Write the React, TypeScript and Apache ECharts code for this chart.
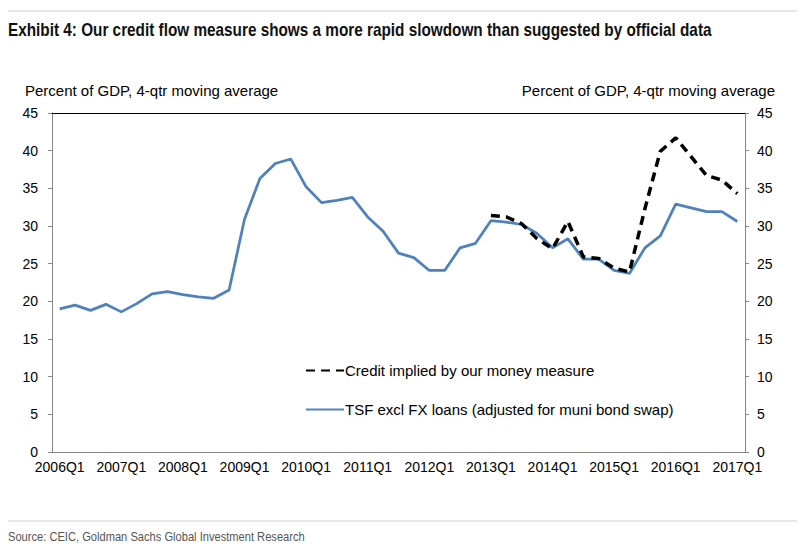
import React, { useEffect, useRef } from "react";
import * as echarts from "echarts";

const years = [2006, 2007, 2008, 2009, 2010, 2011, 2012, 2013, 2014, 2015, 2016, 2017];
const quarters: string[] = [];
years.forEach((y) => {
  for (let q = 1; q <= 4; q++) {
    if (y === 2017 && q > 1) break;
    quarters.push(`${y}Q${q}`);
  }
});

const tsfSeries = [
  19.0, 19.5, 18.8, 19.6, 18.6, 19.7, 21.0, 21.3, 20.9, 20.6, 20.4, 21.5,
  30.9, 36.3, 38.3, 38.9, 35.2, 33.1, 33.4, 33.8, 31.2, 29.3, 26.4, 25.8,
  24.1, 24.1, 27.1, 27.7, 30.7, 30.5, 30.2, 29.0, 27.1, 28.3, 25.6, 25.6,
  24.1, 23.7, 27.1, 28.7, 32.9, 32.4, 31.9, 31.9, 30.6,
];

const creditSeries: (number | null)[] = [
  null, null, null, null, null, null, null, null, null, null, null, null,
  null, null, null, null, null, null, null, null, null, null, null, null,
  null, null, null, null, 31.4, 31.2, 30.3, 28.3, 27.0, 30.6, 25.9, 25.7,
  24.4, 23.9, 32.3, 39.9, 41.7, 39.2, 36.7, 36.1, 34.3,
];

const creditName = "Credit implied by our money measure";
const tsfName = "TSF excl FX loans (adjusted for muni bond swap)";
const yAxisTitle = "Percent of GDP, 4-qtr moving average";
const chartTitle =
  "Exhibit 4: Our credit flow measure shows a more rapid slowdown than suggested by official data";
const sourceText = "Source: CEIC, Goldman Sachs Global Investment Research";

const axisFont = "'Liberation Sans', Arial, sans-serif";

function fitScale(text: string, font: string, target: number): number {
  const c = document.createElement("canvas").getContext("2d");
  if (!c) return 1;
  c.font = font;
  const w = c.measureText(text).width;
  return w > 0 ? target / w : 1;
}

export default function App() {
  const ref = useRef<HTMLDivElement>(null);
  useEffect(() => {
    document.body.style.margin = "0";
    if (!ref.current) return;
    const chart = echarts.init(ref.current, undefined, { renderer: "svg" });
    const axisLineColor = "#868686";
    const titleFont = `bold 19px ${axisFont}`;
    const srcFont = `13px ${axisFont}`;
    const titleScale = fitScale(chartTitle, titleFont, 704);
    const srcScale = fitScale(sourceText, srcFont, 297);
    const valueAxis = (pos: "left" | "right") => ({
      type: "value" as const,
      position: pos,
      min: 0,
      max: 45,
      interval: 5,
      axisLine: { show: true, lineStyle: { color: axisLineColor, width: 1 } },
      axisTick: { show: true, length: 4, lineStyle: { color: axisLineColor } },
      axisLabel: { color: "#000", fontSize: 14, fontFamily: axisFont, margin: pos === "left" ? 14 : 12 },
      splitLine: { show: false },
    });
    chart.setOption({
      animation: false,
      backgroundColor: "#fff",
      grid: { left: 52, right: 60, top: 113, bottom: 100, containLabel: false },
      xAxis: {
        type: "category",
        data: quarters,
        boundaryGap: true,
        axisLine: { lineStyle: { color: axisLineColor } },
        axisTick: { interval: 3, length: 4, lineStyle: { color: axisLineColor } },
        axisLabel: { interval: 3, color: "#000", fontSize: 14, fontFamily: axisFont, margin: 8 },
      },
      yAxis: [valueAxis("left"), valueAxis("right")],
      legend: {
        orient: "vertical",
        left: 300,
        top: 358,
        itemGap: 24,
        itemWidth: 38,
        itemHeight: 13,
        itemStyle: { opacity: 0 },
        textStyle: { color: "#000", fontSize: 15, fontFamily: axisFont, padding: [0, 0, 0, -4] },
        data: [creditName, tsfName],
      },
      series: [
        {
          name: tsfName,
          type: "line",
          data: tsfSeries,
          symbol: "none",
          lineStyle: { color: "#4F81BD", width: 2.75 },
          itemStyle: { color: "#4F81BD" },
          z: 2,
          markLine: {
            silent: true,
            symbol: "none",
            label: { show: false },
            lineStyle: { color: "#000", width: 1, type: "solid" },
            data: [{ yAxis: 45 }],
          },
        },
        {
          name: creditName,
          type: "line",
          data: creditSeries,
          symbol: "none",
          lineStyle: { color: "#000", width: 3.5, type: [9, 6] },
          itemStyle: { color: "#000" },
          z: 3,
        },
      ],
      graphic: [
        { type: "line", shape: { x1: 8, y1: 11, x2: 797, y2: 11 }, style: { stroke: "#d0d0d0", lineWidth: 1 } },
        {
          type: "text",
          x: 8,
          y: 20,
          scaleX: titleScale,
          style: { text: chartTitle, fill: "#111", font: titleFont, x: 0, y: 0, verticalAlign: "top" },
        },
        {
          type: "text",
          left: 25,
          top: 83,
          style: { text: yAxisTitle, fill: "#000", font: `15px ${axisFont}` },
        },
        {
          type: "text",
          right: 30,
          top: 83,
          style: { text: yAxisTitle, fill: "#000", font: `15px ${axisFont}` },
        },
        { type: "line", shape: { x1: 8, y1: 521, x2: 797, y2: 521 }, style: { stroke: "#d0d0d0", lineWidth: 1 } },
        {
          type: "text",
          x: 8,
          y: 530,
          scaleX: srcScale,
          style: { text: sourceText, fill: "#555", font: srcFont, x: 0, y: 0, verticalAlign: "top" },
        },
      ],
    });
    return () => chart.dispose();
  }, []);
  return <div ref={ref} style={{ width: 805, height: 552 }} />;
}
